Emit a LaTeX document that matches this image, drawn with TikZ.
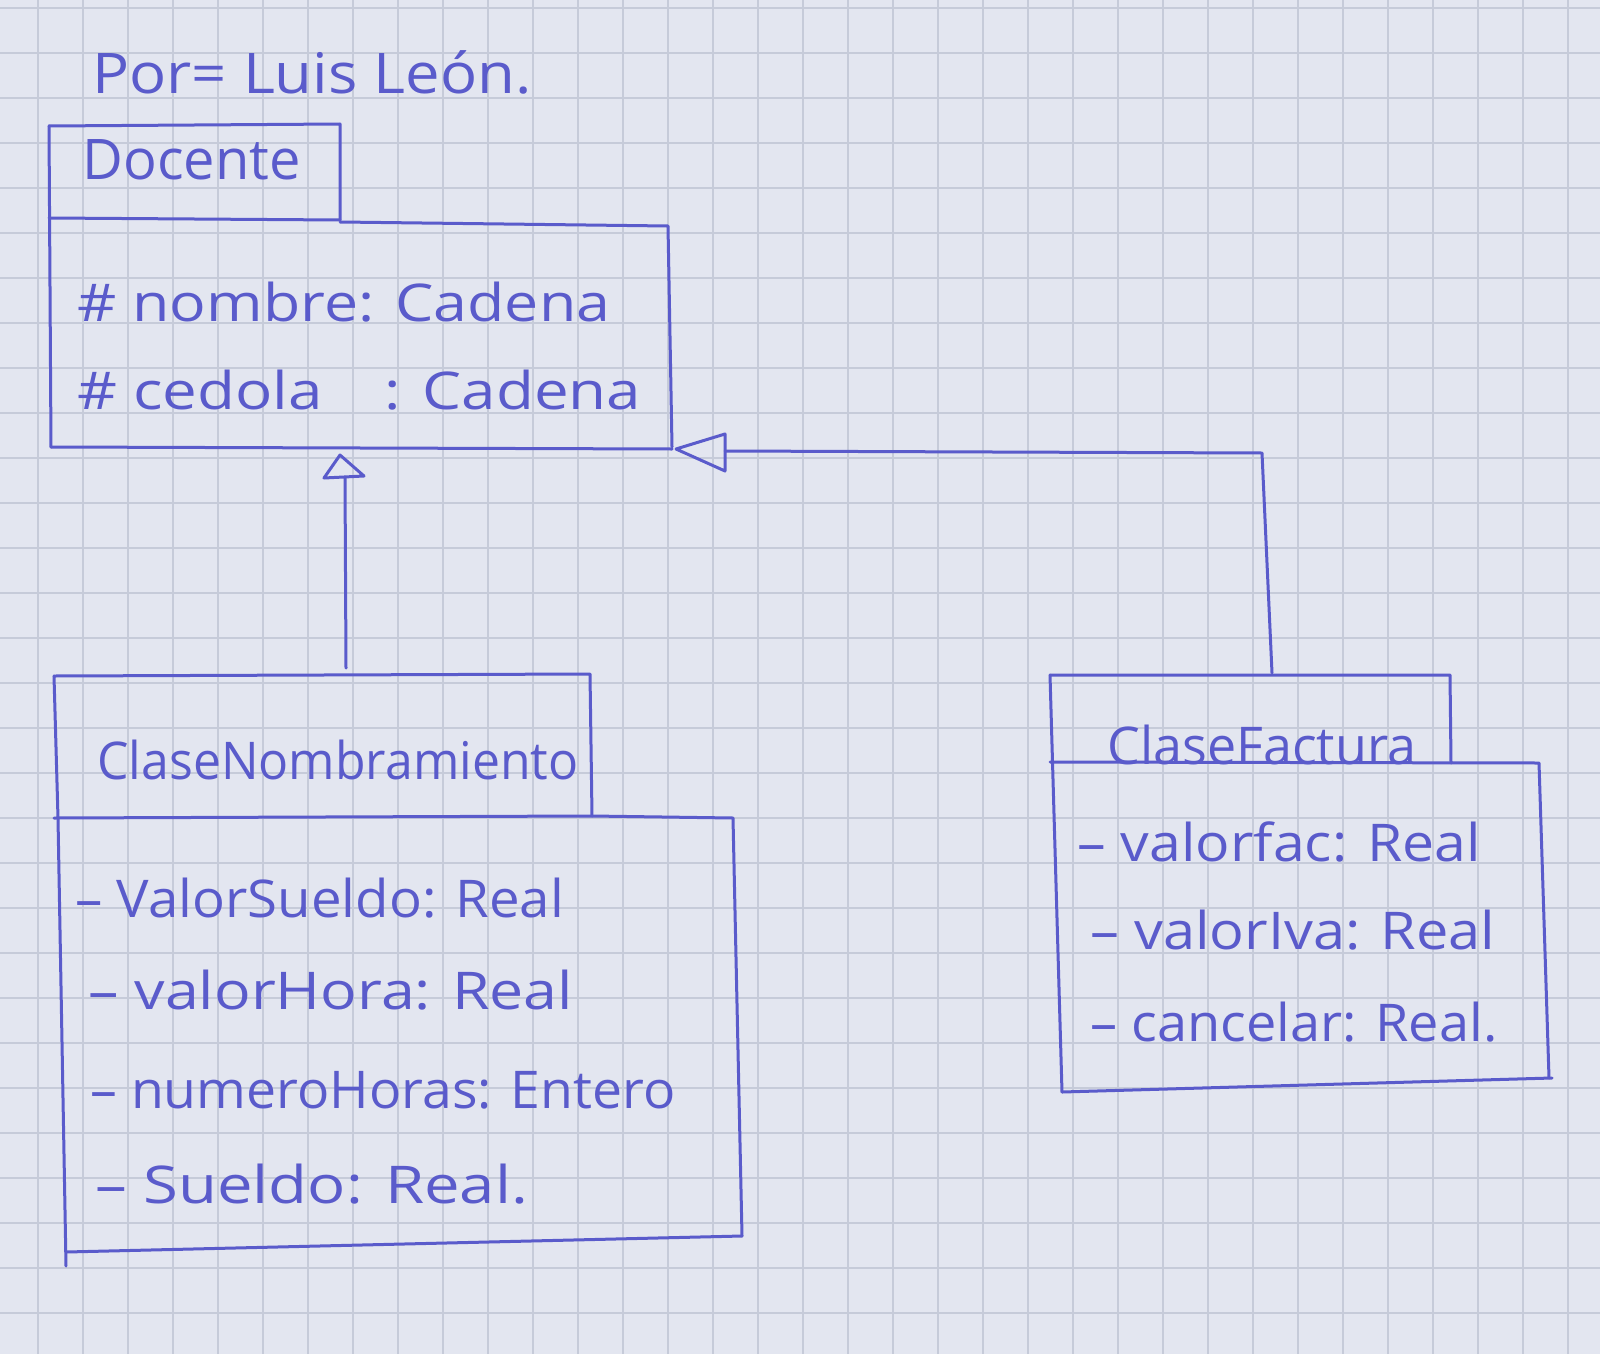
\documentclass[tikz,border=0pt]{standalone}
\usepackage{fontspec}
\setmainfont{Open Sans}
\definecolor{paper}{HTML}{E3E6F0}
\definecolor{gridc}{HTML}{C6CBD9}
\definecolor{pen}{HTML}{5A5BCB}
\newcommand{\hs}[2]{\scalebox{#1}[1]{#2}}
\begin{document}
\begin{tikzpicture}[x=0.5pt,y=-0.5pt,
  pen/.style={draw=pen,line width=1.5pt,line cap=round,line join=round},
  txt/.style={anchor=west,text=pen,inner sep=0pt,font=\fontsize{26}{30}\selectfont},
  ttl/.style={txt,font=\fontsize{28}{32}\selectfont},
  tri/.style={pen}]
\fill[paper] (0,0) rectangle (1600,1354);
\useasboundingbox (0,0) rectangle (1600,1354);
\foreach \i in {0,...,36} {\draw[gridc,line width=0.9pt] ({38+45*\i-45},0) -- ({38+45*\i-45},1354);}
\foreach \j in {0,...,31} {\draw[gridc,line width=0.9pt] (0,{8+45*\j}) -- (1600,{8+45*\j});}

% author
\node[txt,font=\fontsize{28}{32}\selectfont] (autor) at (92,72) {\hs{1.1}{Por= Luis León.}};

% Docente
\draw[pen] (49,126) -- (340,124) -- (340,220);
\draw[pen] (49,126) -- (51,447);
\draw[pen] (49,218) -- (340,220);
\draw[pen] (340,222) -- (668,226) -- (672,447);
\draw[pen] (51,447) -- (672,449);
\node[ttl] (docente) at (82,160) {Docente};
\node[txt] (d1) at (77,302) {\hs{1.17}{\# nombre: Cadena}};
\node[txt] (d2) at (77,390) {\hs{1.19}{\# cedola\quad: Cadena}};
\coordinate (dbot) at (340,455);
\coordinate (dright) at (676,449);

% ClaseNombramiento
\draw[pen] (54,676) -- (590,674) -- (592,816);
\draw[pen] (54,676) -- (58,818) -- (66,1266);
\draw[pen] (54,818) -- (592,816) -- (733,818) -- (742,1236);
\draw[pen] (66,1252) -- (742,1236);
\node[txt] (cn) at (97,760) {\hs{0.96}{ClaseNombramiento}};
\node[txt] (n1) at (75,898) {\hs{1.05}{– ValorSueldo: Real}};
\node[txt] (n2) at (88,990) {\hs{1.17}{– valorHora: Real}};
\node[txt] (n3) at (90,1090) {\hs{1.03}{– numeroHoras: Entero}};
\node[txt] (n4) at (95,1184) {\hs{1.22}{– Sueldo: Real.}};
\coordinate (ntop) at (346,668);

% ClaseFactura
\draw[pen] (1050,675) -- (1450,675) -- (1451,763);
\draw[pen] (1050,675) -- (1062,1092);
\draw[pen] (1050,762) -- (1539,763) -- (1549,1078);
\draw[pen] (1062,1092) -- (1552,1078);
\node[txt] (cf) at (1107,745) {ClaseFactura};
\node[txt] (f1) at (1077,842) {\hs{1.1}{– valorfac: Real}};
\node[txt] (f2) at (1090,930) {\hs{1.11}{– valorIva: Real}};
\node[txt] (f3) at (1090,1022) {\hs{1.04}{– cancelar: Real.}};
\coordinate (ftop) at (1272,673);

% generalization arrows
\draw[tri] (dbot) -- ++(-16,23) -- ++(40,-2) -- cycle;
\draw[pen] (345,477) -- (ntop);
\draw[tri] (dright) -- ++(49,-15) -- ++(0,37) -- cycle;
\draw[pen] (725,451) -- (1262,453) -- (ftop);
\end{tikzpicture}
\end{document}
